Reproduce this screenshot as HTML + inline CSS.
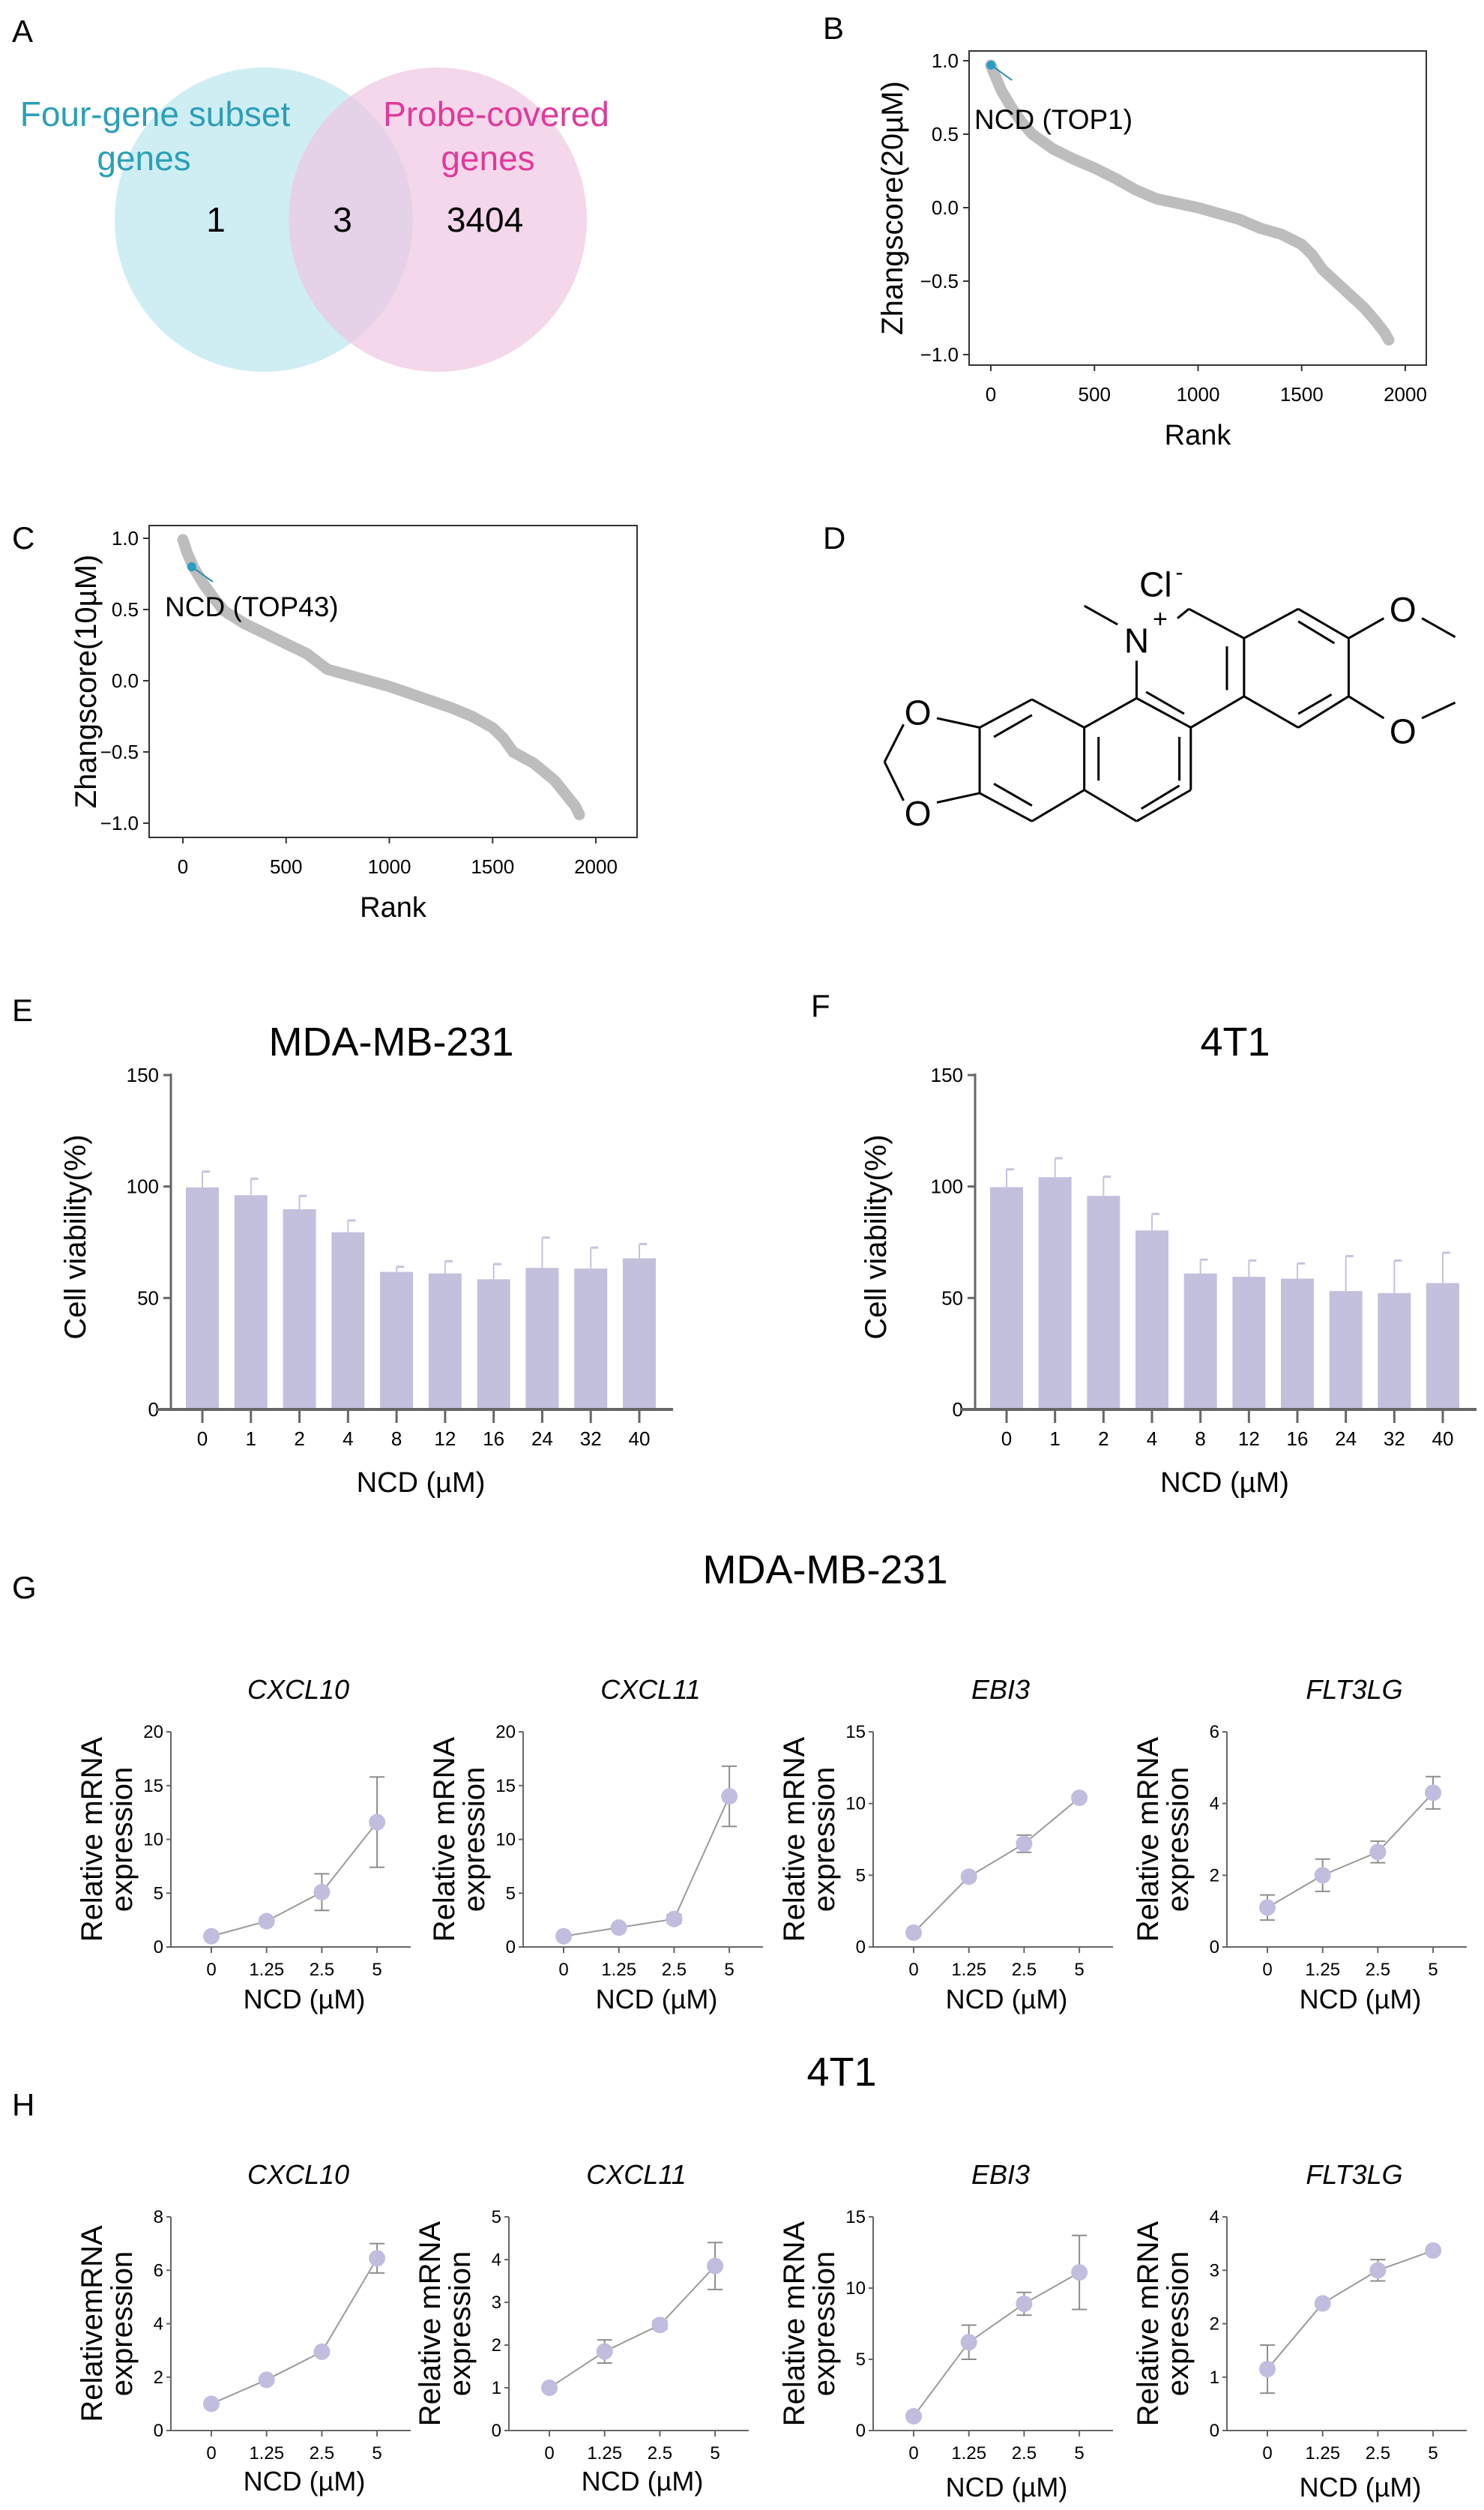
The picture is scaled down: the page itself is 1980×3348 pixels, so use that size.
<!DOCTYPE html>
<html><head><meta charset="utf-8"><style>
html,body{margin:0;padding:0;background:#fff}
svg{display:block;font-family:"Liberation Sans",Arial,sans-serif}
</style></head><body>
<svg id="fig" width="1980" height="3348" viewBox="0 0 1980 3348" xmlns="http://www.w3.org/2000/svg">
<g>
<ellipse cx="352" cy="293" rx="199" ry="203" fill="#bfe8ef" fill-opacity="0.75"/>
<ellipse cx="584" cy="293" rx="199" ry="203" fill="#efc6e2" fill-opacity="0.7"/>
<text x="207" y="168" font-size="46" fill="#2b9fb8" text-anchor="middle">Four-gene subset</text>
<text x="192" y="227" font-size="46" fill="#2b9fb8" text-anchor="middle">genes</text>
<text x="662" y="168" font-size="46" fill="#e0399a" text-anchor="middle">Probe-covered</text>
<text x="651" y="227" font-size="46" fill="#e0399a" text-anchor="middle">genes</text>
<text x="288" y="309" font-size="46" text-anchor="middle">1</text>
<text x="457" y="309" font-size="46" text-anchor="middle">3</text>
<text x="647" y="309" font-size="46" text-anchor="middle">3404</text>
</g>
<g font-size="42">
<text x="16" y="56">A</text>
<text x="1098" y="52">B</text>
<text x="16" y="732">C</text>
<text x="1098" y="732">D</text>
<text x="16" y="1362">E</text>
<text x="1082" y="1356">F</text>
<text x="16" y="2132">G</text>
<text x="16" y="2822">H</text>
</g>
<g id="chem"></g>
</svg>
<script>
// ---- rank plot data (B, C) ----
const rankB = [0,20,50,100,150,200,300,400,500,600,700,800,1000,1200,1300,1400,1500,1550,1600,1700,1800,1850,1900,1920];
const scoreB = [0.97,0.9,0.8,0.68,0.58,0.5,0.4,0.33,0.27,0.2,0.12,0.06,0,-0.08,-0.14,-0.18,-0.25,-0.32,-0.42,-0.55,-0.68,-0.76,-0.85,-0.9];
const rankC = [0,20,50,100,150,200,300,400,500,600,700,800,1000,1200,1300,1400,1500,1550,1600,1700,1800,1850,1900,1920];
const scoreC = [0.99,0.9,0.8,0.68,0.58,0.49,0.4,0.33,0.26,0.19,0.08,0.04,-0.04,-0.14,-0.19,-0.25,-0.33,-0.4,-0.5,-0.58,-0.7,-0.79,-0.88,-0.94];
const rankTicks = [0,500,1000,1500,2000];
const scoreTicks = [1.0,0.5,0.0,-0.5,-1.0];
// ---- viability data (E, F) ----
const doses = ["0","1","2","4","8","12","16","24","32","40"];
const viabE = [99.6,96.1,89.8,79.5,61.7,61.0,58.4,63.5,63.2,67.8];
const viabEerr = [7.1,7.4,6.0,5.3,2.3,5.5,6.8,13.6,9.4,6.4];
const viabF = [99.7,104.2,95.8,80.3,61.0,59.5,58.7,53.1,52.2,56.7];
const viabFerr = [8.0,8.5,8.6,7.4,6.2,7.3,6.8,15.7,14.6,13.6];
const viabTicks = [0,50,100,150];
// ---- qPCR data (G, H) ----
const concs = ["0","1.25","2.5","5"];
const gCXCL10 = [1,2.4,5.1,11.6], gCXCL10err = [0.2,0.3,1.7,4.2];
const gCXCL11 = [1,1.8,2.6,14], gCXCL11err = [0.1,0.2,0.4,2.8];
const gEBI3 = [1,4.9,7.2,10.4], gEBI3err = [0.2,0.1,0.6,0.2];
const gFLT3LG = [1.1,2,2.65,4.3], gFLT3LGerr = [0.35,0.45,0.3,0.45];
const hCXCL10 = [1,1.9,2.95,6.45], hCXCL10err = [0.1,0.1,0.1,0.55];
const hCXCL11 = [1,1.85,2.47,3.85], hCXCL11err = [0.05,0.27,0.1,0.55];
const hEBI3 = [1,6.2,8.9,11.1], hEBI3err = [0.2,1.2,0.8,2.6];
const hFLT3LG = [1.15,2.38,3,3.37], hFLT3LGerr = [0.45,0.05,0.2,0.05];

const NS = "http://www.w3.org/2000/svg";
const fig = document.getElementById("fig");
function mk(tag, parent, attrs, name, txt){
  const el = document.createElementNS(NS, tag);
  for (const k in attrs) el.setAttribute(k, attrs[k]);
  
  
  if (txt !== undefined) el.textContent = txt;
  parent.appendChild(el);
  return el;
}

// ---- rank plots ----
function rankPlot(o){
  const g = mk("g", fig, {}, o.name);
  const sx = r => o.x0 + (r/2000)*(o.x2000 - o.x0);
  const sy = v => o.y0 + (1 - v)/2*(o.ym1 - o.y0);
  mk("rect", g, {x:o.L, y:o.T, width:o.R-o.L, height:o.B-o.T, fill:"none", stroke:"#333", "stroke-width":2}, "plot-frame");
  scoreTicks.forEach(v=>{
    mk("line", g, {x1:o.L-8, x2:o.L, y1:sy(v), y2:sy(v), stroke:"#333", "stroke-width":2}, "y-tick");
    mk("text", g, {x:o.L-14, y:sy(v)+9, "font-size":26, "text-anchor":"end"}, "y-tick-label", v.toFixed(1).replace("-","\u2212"));
  });
  rankTicks.forEach(r=>{
    mk("line", g, {x1:sx(r), x2:sx(r), y1:o.B, y2:o.B+8, stroke:"#333", "stroke-width":2}, "x-tick");
    mk("text", g, {x:sx(r), y:o.B+48, "font-size":26, "text-anchor":"middle"}, "x-tick-label", String(r));
  });
  const pts = o.ranks.map((r,i)=>sx(r)+","+sy(o.scores[i])).join(" ");
  mk("polyline", g, {points:pts, fill:"none", stroke:"#bdbdbd", "stroke-width":15, "stroke-linecap":"round", "stroke-linejoin":"round"}, "score-curve");
  const hx = sx(o.hr), hy = sy(o.hv);
  mk("line", g, {x1:hx, y1:hy, x2:hx+28, y2:hy+20, stroke:"#2a90b0", "stroke-width":2}, "highlight-pointer");
  mk("circle", g, {cx:hx, cy:hy, r:6, fill:"#2a9ec0"}, "ncd-point");
  mk("text", g, {x:o.lx, y:o.ly, "font-size":37}, "ncd-annotation", o.label);
  mk("text", g, {x:(o.L+o.R)/2, y:o.B+106, "font-size":38, "text-anchor":"middle"}, "x-axis-title", "Rank");
  mk("text", g, {x:0, y:0, "font-size":40, "text-anchor":"middle", transform:`translate(${o.ylx},${(o.T+o.B)/2}) rotate(-90)`}, "y-axis-title", o.ylab);
}
rankPlot({name:"panel-b-rank-plot", L:1293, R:1903, T:68, B:487, x0:1322, x2000:1875, y0:81, ym1:473,
  ranks:rankB, scores:scoreB, hr:1, hv:0.97, lx:1300, ly:172, label:"NCD (TOP1)", ylab:"Zhangscore(20\u00b5M)", ylx:1204});
rankPlot({name:"panel-c-rank-plot", L:199, R:850, T:701, B:1117, x0:244, x2000:795, y0:718, ym1:1098,
  ranks:rankC, scores:scoreC, hr:43, hv:0.8, lx:220, ly:822, label:"NCD (TOP43)", ylab:"Zhangscore(10\u00b5M)", ylx:128});

// ---- chemical structure ----
(function(){
  const chem = document.getElementById("chem");
  const X = x => x*1.269, Y = y => y*0.833;
  const bonds = [
    [1308,1022,1365,975],[1365,975,1418,1022],[1418,1022,1418,1115],[1418,1115,1365,1165],[1365,1165,1308,1115],[1308,1115,1308,1022],
    [1250,975,1308,1022],[1308,1115,1252,1165],[1252,1165,1195,1118],[1195,1118,1195,1058],
    [1252,1165,1252,1265],[1252,1265,1195,1315],[1195,1315,1140,1265],[1140,1265,1140,1165],[1140,1165,1195,1118],
    [1140,1165,1085,1120],[1085,1120,1030,1165],[1030,1165,1030,1270],[1030,1270,1085,1315],[1085,1315,1140,1265],
    [1030,1165,985,1150],[1030,1270,985,1285],[950,1160,930,1220],[930,1220,950,1282],
    [1418,1022,1455,990],[1495,990,1530,1020],[1418,1115,1455,1150],[1495,1150,1530,1125],[1140,970,1175,1000],
    [1365,995,1403,1030],[1290,1035,1290,1105],[1400,1112,1365,1143],[1205,1108,1245,1143],[1240,1180,1240,1250],[1155,1180,1155,1250],
    [1200,1295,1240,1258],[1045,1180,1085,1145],[1045,1255,1085,1290]
  ];
  bonds.forEach(b=>{
    mk("line", chem, {x1:X(b[0]), y1:Y(b[1]), x2:X(b[2]), y2:Y(b[3]), stroke:"#000", "stroke-width":3}, "bond");
  });
  const atoms = [["N",1195,1045],["O",965,1160],["O",965,1322],["O",1475,995],["O",1475,1190]];
  atoms.forEach(a=>{
    mk("text", chem, {x:X(a[1]), y:Y(a[2]), "font-size":46, "text-anchor":"middle"}, "atom-label", a[0]);
  });
  mk("text", chem, {x:X(1212), y:Y(1005), "font-size":34}, "charge-plus", "+");
  mk("line", chem, {x1:X(1238), y1:Y(990), x2:X(1250), y2:Y(975), stroke:"#000", "stroke-width":3}, "bond-n-ch");
  mk("text", chem, {x:X(1215), y:Y(955), "font-size":46, "text-anchor":"middle"}, "chloride-label", "Cl");
  mk("text", chem, {x:X(1236), y:Y(928), "font-size":30}, "charge-minus", "-");
})();

// ---- viability bar charts ----
function barPlot(o){
  const g = mk("g", fig, {}, o.name);
  const y0 = 1880, y150 = 1434;
  const sy = v => y0 - v/150*(y0 - y150);
  const sx = i => o.c0 + i*(o.c9 - o.c0)/9;
  mk("text", g, {x:o.tx, y:1408, "font-size":54, "text-anchor":"middle"}, "chart-title", o.title);
  mk("line", g, {x1:o.ax, x2:o.ax, y1:y150-2, y2:y0, stroke:"#666", "stroke-width":3}, "y-axis");
  viabTicks.forEach(v=>{
    mk("line", g, {x1:o.ax-10, x2:o.ax, y1:sy(v), y2:sy(v), stroke:"#666", "stroke-width":3}, "y-tick");
    mk("text", g, {x:o.ax-16, y:sy(v)+9, "font-size":26, "text-anchor":"end"}, "y-tick-label", String(v));
  });
  o.vals.forEach((v,i)=>{
    const cx = sx(i);
    mk("line", g, {x1:cx, x2:cx, y1:sy(v), y2:sy(v+o.err[i]), stroke:"#c6c3e0", "stroke-width":2}, "error-bar");
    mk("line", g, {x1:cx, x2:cx+10, y1:sy(v+o.err[i]), y2:sy(v+o.err[i]), stroke:"#c6c3e0", "stroke-width":3}, "error-cap");
    mk("rect", g, {x:cx-22, y:sy(v), width:44, height:y0-sy(v), fill:"#c3c0de"}, "bar-"+doses[i]);
    mk("line", g, {x1:cx, x2:cx, y1:y0, y2:y0+18, stroke:"#666", "stroke-width":3}, "x-tick");
    mk("text", g, {x:cx, y:1928, "font-size":26, "text-anchor":"middle"}, "x-tick-label", doses[i]);
  });
  mk("line", g, {x1:o.ax-20, x2:o.c9+45, y1:y0, y2:y0, stroke:"#666", "stroke-width":4}, "x-axis");
  mk("text", g, {x:(o.c0+o.c9)/2, y:1990, "font-size":38, "text-anchor":"middle"}, "x-axis-title", "NCD (\u00b5M)");
  mk("text", g, {x:0, y:0, "font-size":40, "text-anchor":"middle", transform:`translate(${o.ylx},1650) rotate(-90)`}, "y-axis-title", "Cell viability(%)");
}
barPlot({name:"panel-e-viability-mda", ax:228, c0:270, c9:853, tx:522, title:"MDA-MB-231", vals:viabE, err:viabEerr, ylx:114});
barPlot({name:"panel-f-viability-4t1", ax:1301, c0:1343, c9:1925, tx:1648, title:"4T1", vals:viabF, err:viabFerr, ylx:1182});

// ---- qPCR line plots ----
mk("text", fig, {x:1101, y:2112, "font-size":54, "text-anchor":"middle"}, "title-g-mda", "MDA-MB-231");
mk("text", fig, {x:1123, y:2782, "font-size":54, "text-anchor":"middle"}, "title-h-4t1", "4T1");
function linePlot(o){
  const g = mk("g", fig, {}, o.name);
  const sy = v => o.B - v/o.max*(o.B - o.T);
  const sx = i => o.ax + 54 + i*73.7;
  mk("text", g, {x:o.ax+170, y:o.T-44, "font-size":36, "font-style":"italic", "text-anchor":"middle"}, "gene-title", o.gene);
  mk("line", g, {x1:o.ax, x2:o.ax, y1:o.T, y2:o.B, stroke:"#666", "stroke-width":2}, "y-axis");
  mk("line", g, {x1:o.ax, x2:o.ax+320, y1:o.B, y2:o.B, stroke:"#666", "stroke-width":2}, "x-axis");
  o.ticks.forEach(v=>{
    mk("line", g, {x1:o.ax-6, x2:o.ax, y1:sy(v), y2:sy(v), stroke:"#666", "stroke-width":2}, "y-tick");
    mk("text", g, {x:o.ax-10, y:sy(v)+8, "font-size":24, "text-anchor":"end"}, "y-tick-label", String(v));
  });
  concs.forEach((c,i)=>{
    mk("line", g, {x1:sx(i), x2:sx(i), y1:o.B, y2:o.B+8, stroke:"#666", "stroke-width":2}, "x-tick");
    mk("text", g, {x:sx(i), y:o.B+38, "font-size":24, "text-anchor":"middle"}, "x-tick-label", c);
  });
  const pts = o.vals.map((v,i)=>sx(i)+","+sy(v)).join(" ");
  mk("polyline", g, {points:pts, fill:"none", stroke:"#9a9a9a", "stroke-width":2}, "series-line");
  o.vals.forEach((v,i)=>{
    const e = o.err[i];
    mk("line", g, {x1:sx(i), x2:sx(i), y1:sy(v-e), y2:sy(v+e), stroke:"#8e8e8e", "stroke-width":2}, "error-bar");
    mk("line", g, {x1:sx(i)-10, x2:sx(i)+10, y1:sy(v+e), y2:sy(v+e), stroke:"#8e8e8e", "stroke-width":2}, "error-cap-top");
    mk("line", g, {x1:sx(i)-10, x2:sx(i)+10, y1:sy(v-e), y2:sy(v-e), stroke:"#8e8e8e", "stroke-width":2}, "error-cap-bottom");
    mk("circle", g, {cx:sx(i), cy:sy(v), r:11, fill:"#c0bddf"}, "point-"+concs[i]);
  });
  mk("text", g, {x:o.ax+178, y:o.B+o.nly, "font-size":36, "text-anchor":"middle"}, "x-axis-title", "NCD (\u00b5M)");
  const cy = (o.T+o.B)/2;
  if (o.single) {
    mk("text", g, {x:0, y:0, "font-size":40, "text-anchor":"middle", transform:`translate(${o.ax-92},${cy}) rotate(-90)`}, "y-axis-title", "RelativemRNA");
  } else {
    mk("text", g, {x:0, y:0, "font-size":40, "text-anchor":"middle", transform:`translate(${o.ax-92},${cy}) rotate(-90)`}, "y-axis-title", "Relative mRNA");
  }
  mk("text", g, {x:0, y:0, "font-size":40, "text-anchor":"middle", transform:`translate(${o.ax-52},${cy}) rotate(-90)`}, "y-axis-title-2", "expression");
}
const GT = 2310, GB = 2597, HT = 2957, HB = 3242;
linePlot({name:"g-cxcl10", gene:"CXCL10", ax:228, T:GT, B:GB, max:20, ticks:[0,5,10,15,20], vals:gCXCL10, err:gCXCL10err, nly:82});
linePlot({name:"g-cxcl11", gene:"CXCL11", ax:698, T:GT, B:GB, max:20, ticks:[0,5,10,15,20], vals:gCXCL11, err:gCXCL11err, nly:82});
linePlot({name:"g-ebi3", gene:"EBI3", ax:1165, T:GT, B:GB, max:15, ticks:[0,5,10,15], vals:gEBI3, err:gEBI3err, nly:82});
linePlot({name:"g-flt3lg", gene:"FLT3LG", ax:1637, T:GT, B:GB, max:6, ticks:[0,2,4,6], vals:gFLT3LG, err:gFLT3LGerr, nly:82});
linePlot({name:"h-cxcl10", gene:"CXCL10", ax:228, T:HT, B:HB, max:8, ticks:[0,2,4,6,8], vals:hCXCL10, err:hCXCL10err, nly:80, single:true});
linePlot({name:"h-cxcl11", gene:"CXCL11", ax:679, T:HT, B:HB, max:5, ticks:[0,1,2,3,4,5], vals:hCXCL11, err:hCXCL11err, nly:80});
linePlot({name:"h-ebi3", gene:"EBI3", ax:1165, T:HT, B:HB, max:15, ticks:[0,5,10,15], vals:hEBI3, err:hEBI3err, nly:88});
linePlot({name:"h-flt3lg", gene:"FLT3LG", ax:1637, T:HT, B:HB, max:4, ticks:[0,1,2,3,4], vals:hFLT3LG, err:hFLT3LGerr, nly:88});
</script>
</body></html>
